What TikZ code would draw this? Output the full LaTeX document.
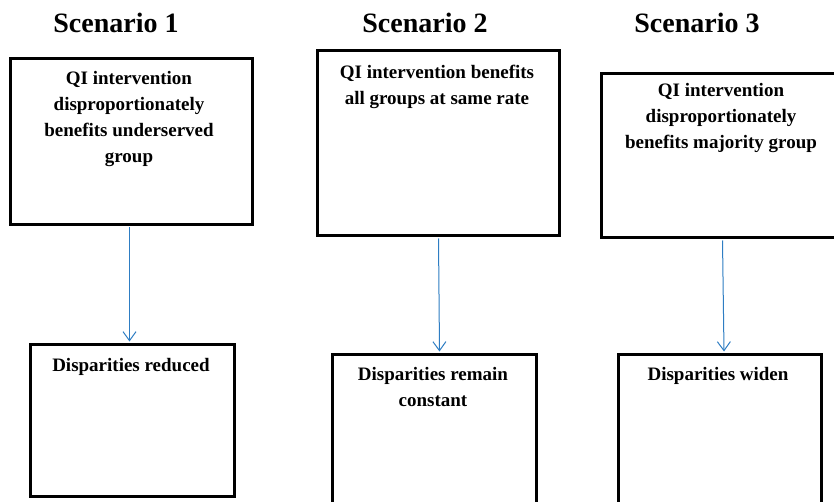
\documentclass[tikz,border=0pt]{standalone}
\usepackage{fontspec}
\setmainfont{Liberation Serif}
\usetikzlibrary{arrows.meta}
\definecolor{arrblue}{RGB}{46,125,195}
\tikzset{
  box/.style={draw=black, line width=3pt, fill=white, inner sep=0pt, anchor=north west},
  title/.style={anchor=base, inner sep=0pt, font=\fontsize{28}{32}\selectfont\bfseries},
  txt/.style={anchor=base, inner sep=0pt, align=center, font=\fontsize{19}{26}\selectfont\bfseries},
  arr/.style={draw=arrblue, line width=1pt, -{Straight Barb[length=9pt,width=13pt,line width=1pt]}}
}
\begin{document}
\begin{tikzpicture}[x=1pt,y=-1pt]
\useasboundingbox (0,0) rectangle (834,502);
\clip (0,0) rectangle (834,502);
\fill[white] (0,0) rectangle (834,502);
% titles
\node[title] (s1) at (116,33) {Scenario 1};
\node[title] (s2) at (425,33) {Scenario 2};
\node[title] (s3) at (697,33) {Scenario 3};
% top boxes
\node[box, minimum width=242pt, minimum height=166pt] (t1) at (9,57) {};
\node[box, minimum width=242pt, minimum height=185pt] (t2) at (316,49) {};
\node[box, minimum width=242pt, minimum height=164pt] (t3) at (600,72) {};
% bottom boxes
\node[box, minimum width=204pt, minimum height=152pt] (b1) at (29,343) {};
\node[box, minimum width=204pt, minimum height=152pt] (b2) at (331,353) {};
\node[box, minimum width=203pt, minimum height=152pt] (b3) at (617,353) {};
% texts (anchor base = baseline of last line)
\node[txt] (t1x) at (129,163) {QI intervention\\disproportionately\\benefits underserved\\group};
\node[txt] (t2x) at (437,105) {QI intervention benefits\\all groups at same rate};
\node[txt] (t3x) at (721,149) {QI intervention\\disproportionately\\benefits majority group};
\node[txt] (b1x) at (131,371) {Disparities reduced};
\node[txt] (b2x) at (433,406) {Disparities remain\\constant};
\node[txt] (b3x) at (718,380) {Disparities widen};
% arrows
\draw[arr] ([xshift=-2pt,yshift=-1.5pt]t1.south) -- ([xshift=-3pt,yshift=1.5pt]b1.north);
\draw[arr] ([yshift=-1.5pt]t2.south) -- ([xshift=5pt,yshift=1.5pt]b2.north);
\draw[arr] ([yshift=-1.5pt]t3.south) -- ([xshift=4pt,yshift=1.5pt]b3.north);
\end{tikzpicture}
\end{document}
